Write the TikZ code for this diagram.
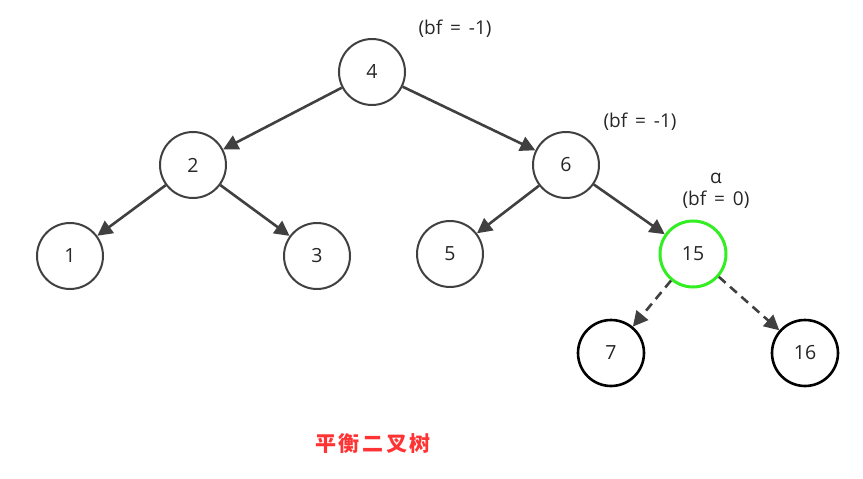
\documentclass[tikz,border=0pt]{standalone}
\usepackage{fontspec}
\setmainfont{Open Sans}
\newfontfamily\cjk[LetterSpace=12]{Noto Sans CJK SC}
\newfontfamily\bffont[WordSpace=1.6]{Open Sans}
\usetikzlibrary{arrows.meta}
\definecolor{edgegray}{HTML}{404040}
\definecolor{alphagreen}{HTML}{33EE22}
\definecolor{titlered}{HTML}{FF3333}
\begin{document}
\begin{tikzpicture}[x=1pt, y=-1pt,
    vertex/.style={draw=edgegray, circle, line width=2pt, minimum size=66pt,
                   inner sep=0pt, fill=white, font=\fontsize{19.5}{22}\selectfont, text=black!85},
    leaf/.style={vertex, draw=black, line width=2.6pt},
    bflabel/.style={font=\bffont\fontsize{19}{22}\selectfont, text=black!85, align=center},
    edge/.style={-{Triangle[length=15pt, width=15pt]}, line width=2.6pt, draw=edgegray}]
    \useasboundingbox (0,0) rectangle (863,479);
    \node[vertex] (n4)  at (372, 72)  {4};
    \node[vertex] (n2)  at (193, 165) {2};
    \node[vertex] (n6)  at (566, 165) {6};
    \node[vertex] (n1)  at (70, 256)  {1};
    \node[vertex] (n3)  at (317, 256) {3};
    \node[vertex] (n5)  at (450, 254) {5};
    \node[vertex, draw=alphagreen, line width=3pt] (n15) at (693, 254) {15};
    \node[leaf] (n7)  at (611, 353) {7};
    \node[leaf] (n16) at (805, 353) {16};
    % balance factors
    \node[bflabel] (bf4)  at (455, 29)  {(bf = -1)};
    \node[bflabel] (bf6)  at (640, 122) {(bf = -1)};
    \node[bflabel] (bf15) at (716, 191) {α\\(bf = 0)};
    \node[font=\cjk\bfseries\fontsize{21}{24}\selectfont, text=titlered] (title) at (373, 444) {平衡二叉树};
    \foreach \a/\b in {n4/n2, n4/n6, n2/n1, n2/n3, n6/n5, n6/n15}
        \draw[edge] (\a) -- (\b);
    \foreach \a/\b in {n15/n7, n15/n16}
        \draw[edge, dash pattern=on 9pt off 6pt] (\a) -- (\b);
\end{tikzpicture}
\end{document}
